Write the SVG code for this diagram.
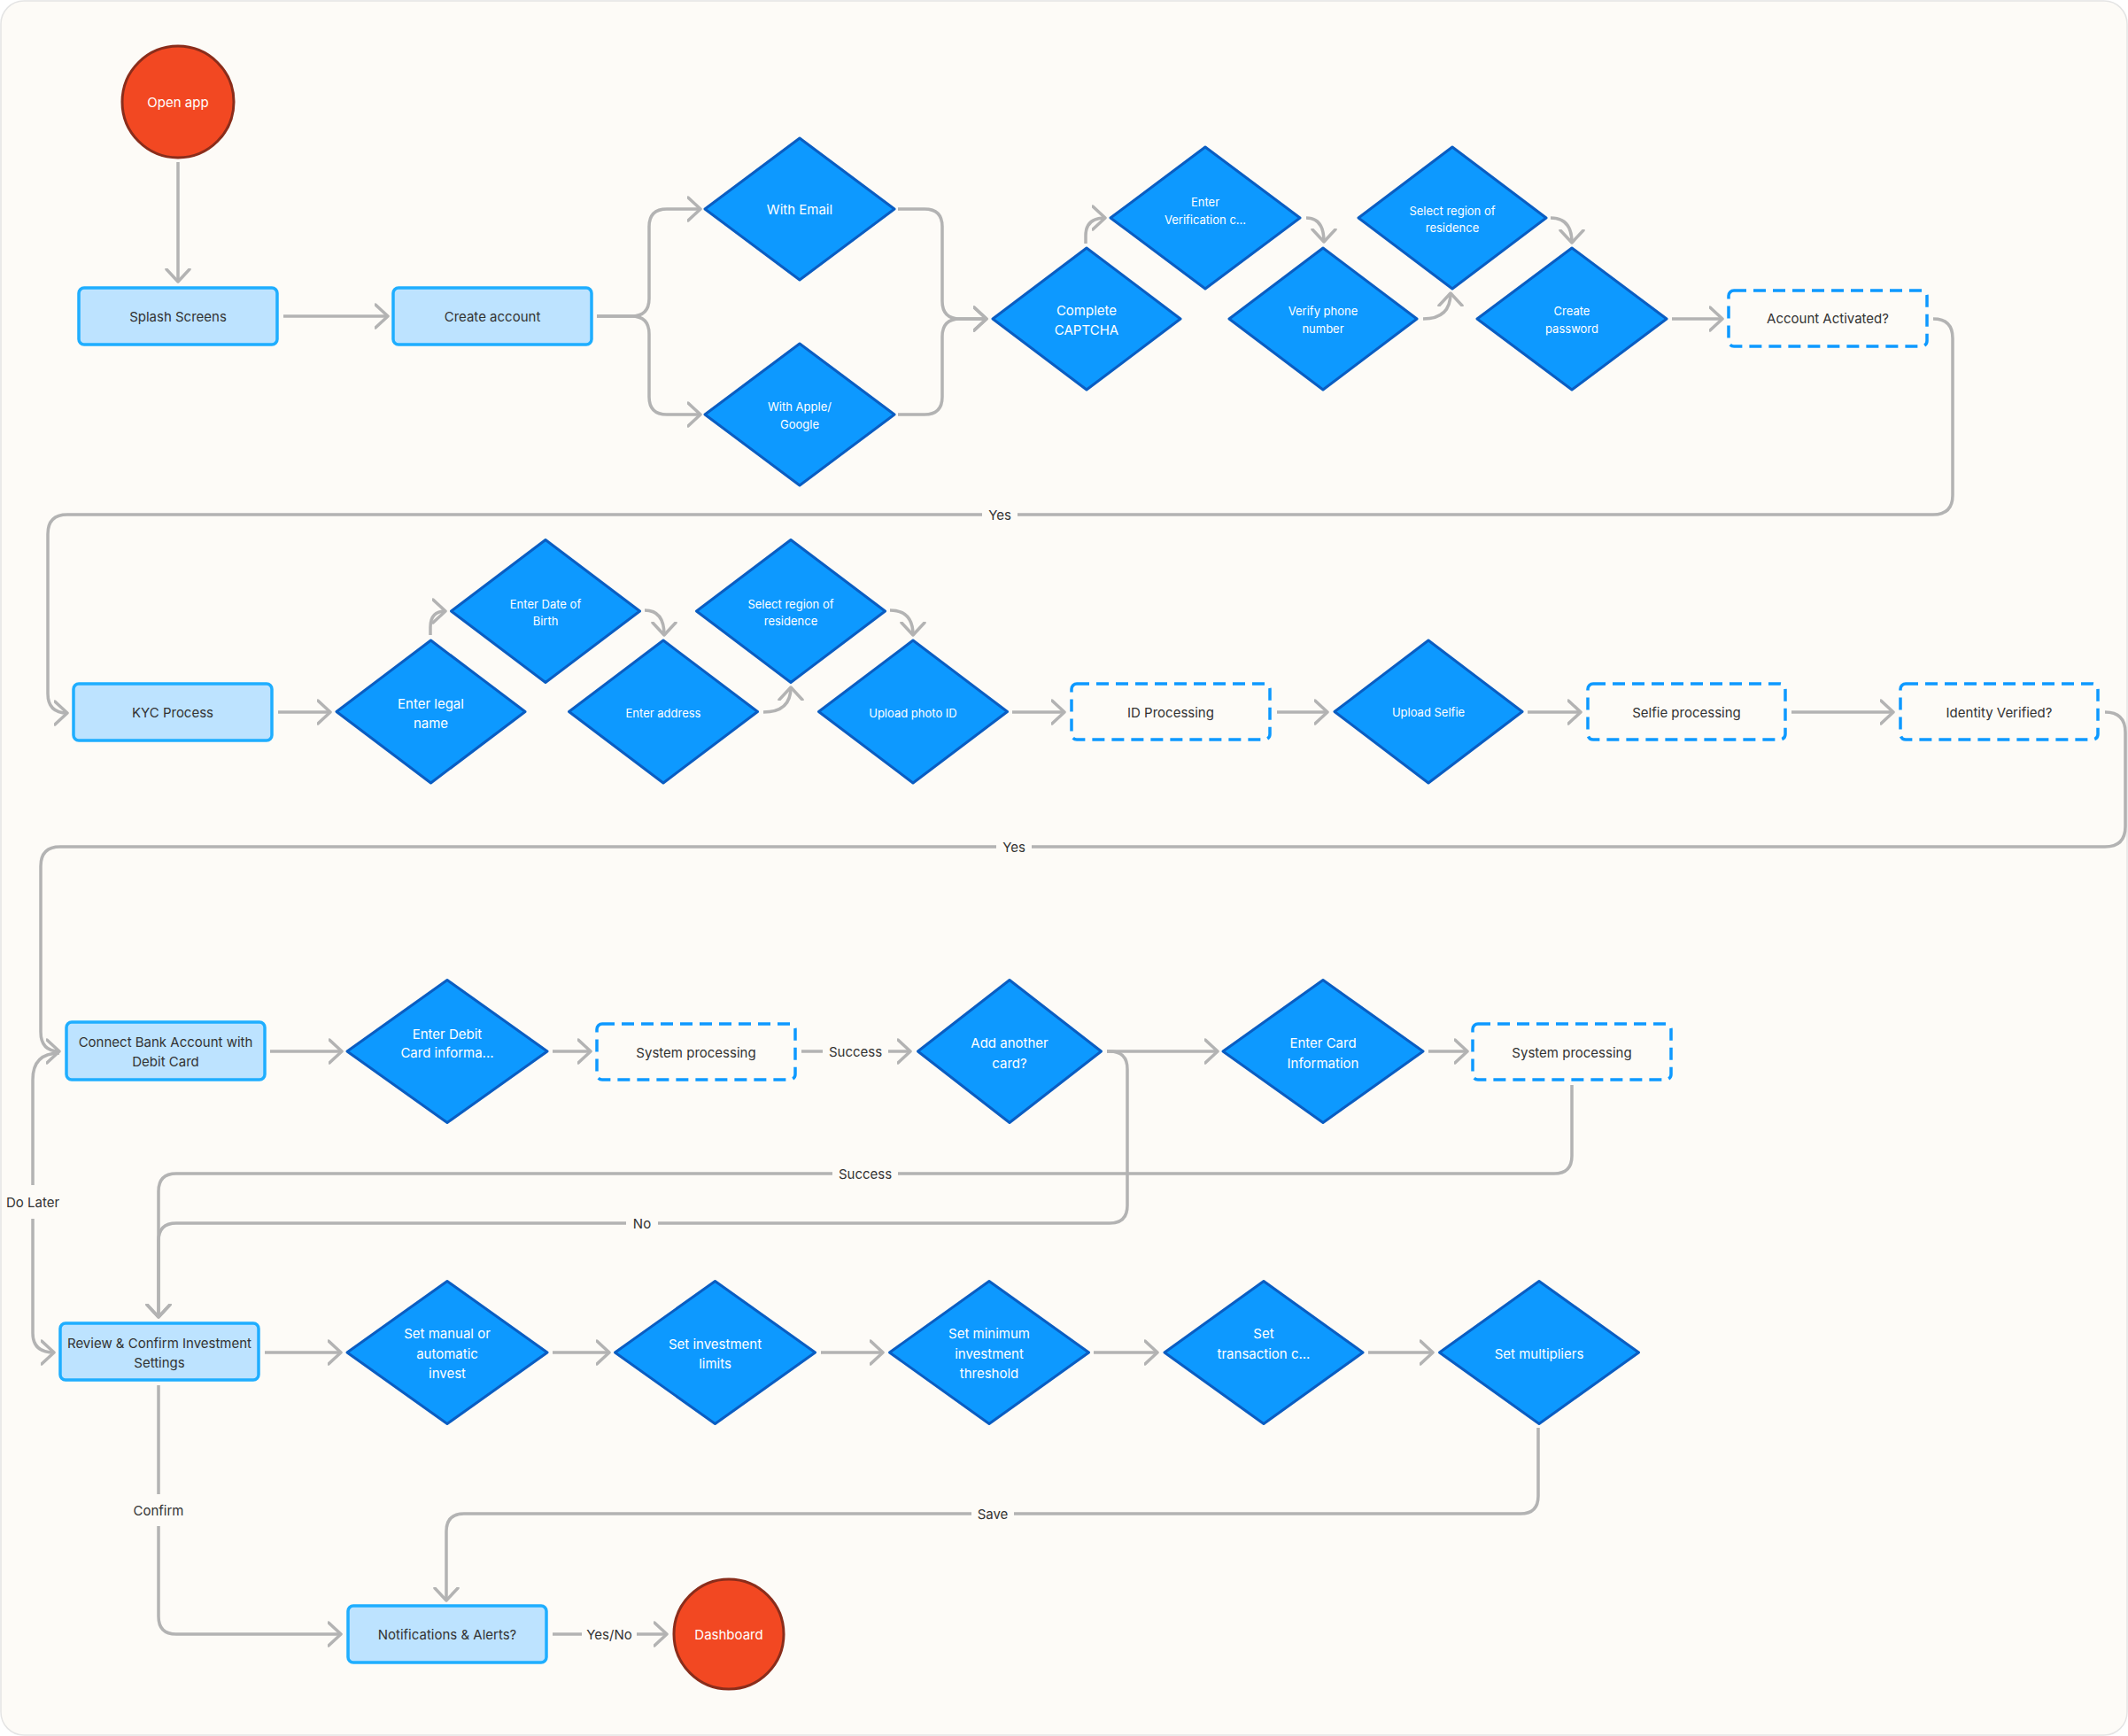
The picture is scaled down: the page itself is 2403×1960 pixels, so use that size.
<svg xmlns="http://www.w3.org/2000/svg" width="2403" height="1960" viewBox="0 0 2403 1960">
<defs>
<style>
.bg{fill:#FDFBF7;stroke:#E4E4E4;stroke-width:1.5}
.c{fill:none;stroke:#B3B3B3;stroke-width:3.5;stroke-linejoin:round}
.ca{fill:none;stroke:#B3B3B3;stroke-width:3.5;stroke-linejoin:round;marker-end:url(#arr)}
.dia{fill:#0D99FF;stroke:#0A5DC2;stroke-width:3;stroke-linejoin:round}
.box{fill:#BDE3FF;stroke:#1FAEFF;stroke-width:3.5}
.dash{fill:none;stroke:#0D99FF;stroke-width:3.5;stroke-dasharray:14 8}
.circ{fill:#F24822;stroke:#8A2D1B;stroke-width:3}
.lb{fill:#FDFBF7}
text{font-family:Inter,"Liberation Sans",sans-serif;text-anchor:middle;dominant-baseline:central}
.tw{fill:#FFFFFF;font-size:13px}
.tw15{fill:#FFFFFF;font-size:15px}
.td{fill:#333333;font-size:15px}
.tl{fill:#333333;font-size:15px}
</style>
<marker id="arr" markerUnits="userSpaceOnUse" markerWidth="30" markerHeight="30" refX="15" refY="15" orient="auto" viewBox="0 0 30 30">
<path d="M1 2 L15 15 L1 28" fill="none" stroke="#B3B3B3" stroke-width="3.5" stroke-linecap="round" stroke-linejoin="round"/>
</marker>
</defs>
<rect x="0" y="0" width="2403" height="1960" fill="#FFFFFF"/>
<rect class="bg" x="1" y="1" width="2401" height="1958" rx="26"/>

<g id="connectors">
<path class="ca" d="M201 183 L201 318"/>
<path class="ca" d="M320 357 L438 357"/>
<path class="ca" d="M674 357 L713 357 Q733 357 733 337 L733 256 Q733 236 753 236 L791 236"/>
<path class="ca" d="M674 357 L713 357 Q733 357 733 377 L733 448 Q733 468 753 468 L791 468"/>
<path class="ca" d="M1014 236 L1044 236 Q1064 236 1064 256 L1064 340 Q1064 360 1084 360 L1114 360"/>
<path class="ca" d="M1014 468 L1044 468 Q1064 468 1064 448 L1064 380 Q1064 360 1084 360 L1114 360"/>
<path class="ca" d="M1226 275 L1226 266 Q1226 246 1248 246"/>
<path class="ca" d="M1475 246 Q1495 246 1495 273"/>
<path class="ca" d="M1607 360 Q1638 360 1638 331"/>
<path class="ca" d="M1751 246 Q1775 246 1775 274"/>
<path class="ca" d="M1888 360 L1945 360"/>
<path class="ca" d="M2183 360 Q2205 360 2205 382 L2205 559 Q2205 581 2183 581 L76 581 Q54 581 54 603 L54 783 Q54 805 76 805"/>
<path class="ca" d="M314 804 L373 804"/>
<path class="ca" d="M486 717 L486 708 Q486 690 503 690"/>
<path class="ca" d="M728 689 Q750 689 750 717"/>
<path class="ca" d="M862 804 Q893 804 893 776"/>
<path class="ca" d="M1005 689 Q1031 689 1031 717"/>
<path class="ca" d="M1143 804 L1202 804"/>
<path class="ca" d="M1442 804 L1499 804"/>
<path class="ca" d="M1725 804 L1785 804"/>
<path class="ca" d="M2023 804 L2138 804"/>
<path class="ca" d="M2377 804 Q2400 804 2400 827 L2400 933 Q2400 956 2377 956 L68 956 Q46 956 46 978 L46 1165 Q46 1187 67 1187"/>
<path class="ca" d="M67 1189 Q37 1189 37 1219 L37 1505 Q37 1527 61 1527"/>
<path class="ca" d="M305 1187 L386 1187"/>
<path class="ca" d="M624 1187 L667 1187"/>
<path class="ca" d="M905 1187 L1028 1187"/>
<path class="ca" d="M1250 1187 L1375 1187"/>
<path class="ca" d="M1250 1187 L1253 1187 Q1273 1187 1273 1207 L1273 1361 Q1273 1381 1253 1381 L199 1381 Q179 1381 179 1401 L179 1487"/>
<path class="ca" d="M1613 1187 L1657 1187"/>
<path class="ca" d="M1775 1225 L1775 1305 Q1775 1325 1755 1325 L199 1325 Q179 1325 179 1345 L179 1487"/>
<path class="ca" d="M299 1527 L385 1527"/>
<path class="ca" d="M624 1527 L688 1527"/>
<path class="ca" d="M927 1527 L997 1527"/>
<path class="ca" d="M1235 1527 L1307 1527"/>
<path class="ca" d="M1545 1527 L1618 1527"/>
<path class="ca" d="M1737 1612 L1737 1689 Q1737 1709 1717 1709 L524 1709 Q504 1709 504 1729 L504 1807"/>
<path class="ca" d="M179 1564 L179 1825 Q179 1845 199 1845 L385 1845"/>
<path class="ca" d="M624 1845 L753 1845"/>
<g id="labels">
<rect class="lb" x="1109" y="570" width="40" height="22"/><text class="tl" x="1129" y="581">Yes</text>
<rect class="lb" x="1125" y="945" width="40" height="22"/><text class="tl" x="1145" y="956">Yes</text>
<rect class="lb" x="929" y="1176" width="74" height="22"/><text class="tl" x="966" y="1187">Success</text>
<rect class="lb" x="940" y="1314" width="74" height="22"/><text class="tl" x="977" y="1325">Success</text>
<rect class="lb" x="707" y="1370" width="36" height="22"/><text class="tl" x="725" y="1381">No</text>
<rect class="lb" x="2" y="1338" width="72" height="38"/><text class="tl" x="37" y="1357">Do Later</text>
<rect class="lb" x="1097" y="1698" width="48" height="22"/><text class="tl" x="1121" y="1709">Save</text>
<rect class="lb" x="144" y="1687" width="70" height="36"/><text class="tl" x="179" y="1705">Confirm</text>
<rect class="lb" x="657" y="1834" width="62" height="22"/><text class="tl" x="688" y="1845">Yes/No</text>
</g>
</g>

<g id="open-app"><circle class="circ" cx="201" cy="115" r="63"/><text class="tw15" x="201" y="115">Open app</text></g>
<g id="splash"><rect class="box" x="89" y="325" width="224" height="64" rx="6"/><text class="td" x="201" y="357">Splash Screens</text></g>
<g id="create-account"><rect class="box" x="444" y="325" width="224" height="64" rx="6"/><text class="td" x="556" y="357">Create account</text></g>
<g id="with-email"><polygon class="dia" points="903,156 1010,236 903,316 796,236"/><text class="tw15" x="903" y="236">With Email</text></g>
<g id="with-apple"><polygon class="dia" points="903,388 1010,468 903,548 796,468"/><text class="tw" x="903" y="459">With Apple/</text><text class="tw" x="903" y="479">Google</text></g>
<g id="captcha"><polygon class="dia" points="1227,280 1333,360 1227,440 1121,360"/><text class="tw15" x="1227" y="350">Complete</text><text class="tw15" x="1227" y="372">CAPTCHA</text></g>
<g id="verification"><polygon class="dia" points="1361,166 1468,246 1361,326 1254,246"/><text class="tw" x="1361" y="228">Enter</text><text class="tw" x="1361" y="248">Verification c...</text></g>
<g id="verify-phone"><polygon class="dia" points="1494,280 1600,360 1494,440 1388,360"/><text class="tw" x="1494" y="351">Verify phone</text><text class="tw" x="1494" y="371">number</text></g>
<g id="select-region-1"><polygon class="dia" points="1640,166 1746,246 1640,326 1534,246"/><text class="tw" x="1640" y="238">Select region of</text><text class="tw" x="1640" y="257">residence</text></g>
<g id="create-password"><polygon class="dia" points="1775,280 1882,360 1775,440 1668,360"/><text class="tw" x="1775" y="351">Create</text><text class="tw" x="1775" y="371">password</text></g>
<g id="account-activated"><rect class="dash" x="1952" y="328" width="224" height="63" rx="6"/><text class="td" x="2064" y="359">Account Activated?</text></g>

<g id="kyc"><rect class="box" x="83" y="772" width="224" height="64" rx="6"/><text class="td" x="195" y="804">KYC Process</text></g>
<g id="legal-name"><polygon class="dia" points="486.5,723 593,803.5 486.5,884 380,803.5"/><text class="tw15" x="486.5" y="794">Enter legal</text><text class="tw15" x="486.5" y="816">name</text></g>
<g id="dob"><polygon class="dia" points="616,609.5 722.5,690 616,770.5 509.5,690"/><text class="tw" x="616" y="682">Enter Date of</text><text class="tw" x="616" y="701">Birth</text></g>
<g id="address"><polygon class="dia" points="749,723 855.5,803.5 749,884 642.5,803.5"/><text class="tw" x="749" y="805">Enter address</text></g>
<g id="select-region-2"><polygon class="dia" points="893,609.5 999.5,690 893,770.5 786.5,690"/><text class="tw" x="893" y="682">Select region of</text><text class="tw" x="893" y="701">residence</text></g>
<g id="upload-photo"><polygon class="dia" points="1031,723 1137.5,803.5 1031,884 924.5,803.5"/><text class="tw" x="1031" y="805">Upload photo ID</text></g>
<g id="id-processing"><rect class="dash" x="1210" y="772" width="224" height="63" rx="6"/><text class="td" x="1322" y="804">ID Processing</text></g>
<g id="upload-selfie"><polygon class="dia" points="1613,723 1719,803.5 1613,884 1507,803.5"/><text class="tw" x="1613" y="804">Upload Selfie</text></g>
<g id="selfie-processing"><rect class="dash" x="1793" y="772" width="223" height="63" rx="6"/><text class="td" x="1904.5" y="804">Selfie processing</text></g>
<g id="identity-verified"><rect class="dash" x="2146" y="772" width="223" height="63" rx="6"/><text class="td" x="2257.5" y="804">Identity Verified?</text></g>

<g id="connect-bank"><rect class="box" x="75" y="1154" width="224" height="65" rx="6"/><text class="td" x="187" y="1176">Connect Bank Account with</text><text class="td" x="187" y="1198">Debit Card</text></g>
<g id="enter-debit"><polygon class="dia" points="505,1106.5 618,1187 505,1267.5 392,1187"/><text class="tw15" x="505" y="1167">Enter Debit</text><text class="tw15" x="505" y="1188">Card informa...</text></g>
<g id="system-processing-1"><rect class="dash" x="674" y="1156" width="224" height="63" rx="6"/><text class="td" x="786" y="1188">System processing</text></g>
<g id="add-another"><polygon class="dia" points="1140,1106.5 1243.5,1187 1140,1267.5 1036.5,1187"/><text class="tw15" x="1140" y="1177">Add another</text><text class="tw15" x="1140" y="1200">card?</text></g>
<g id="enter-card"><polygon class="dia" points="1494,1106.5 1607,1187 1494,1267.5 1381,1187"/><text class="tw15" x="1494" y="1177">Enter Card</text><text class="tw15" x="1494" y="1200">Information</text></g>
<g id="system-processing-2"><rect class="dash" x="1663" y="1156" width="224" height="63" rx="6"/><text class="td" x="1775" y="1188">System processing</text></g>

<g id="review"><rect class="box" x="68" y="1494" width="224" height="64" rx="6"/><text class="td" x="180" y="1516">Review &amp; Confirm Investment</text><text class="td" x="180" y="1538">Settings</text></g>
<g id="set-manual"><polygon class="dia" points="505,1446.5 618,1527 505,1607.5 392,1527"/><text class="tw15" x="505" y="1505">Set manual or</text><text class="tw15" x="505" y="1528">automatic</text><text class="tw15" x="505" y="1550">invest</text></g>
<g id="set-limits"><polygon class="dia" points="807.5,1446.5 920.5,1527 807.5,1607.5 694.5,1527"/><text class="tw15" x="807.5" y="1517">Set investment</text><text class="tw15" x="807.5" y="1539">limits</text></g>
<g id="set-minimum"><polygon class="dia" points="1117,1446.5 1229.5,1527 1117,1607.5 1004.5,1527"/><text class="tw15" x="1117" y="1505">Set minimum</text><text class="tw15" x="1117" y="1528">investment</text><text class="tw15" x="1117" y="1550">threshold</text></g>
<g id="set-transaction"><polygon class="dia" points="1427,1446.5 1539,1527 1427,1607.5 1315,1527"/><text class="tw15" x="1427" y="1505">Set</text><text class="tw15" x="1427" y="1528">transaction c...</text></g>
<g id="set-multipliers"><polygon class="dia" points="1738,1446.5 1850.5,1527 1738,1607.5 1625.5,1527"/><text class="tw15" x="1738" y="1528">Set multipliers</text></g>
<g id="notifications"><rect class="box" x="393" y="1813" width="224" height="64" rx="6"/><text class="td" x="505" y="1845">Notifications &amp; Alerts?</text></g>
<g id="dashboard"><circle class="circ" cx="823" cy="1845" r="62"/><text class="tw15" x="823" y="1845">Dashboard</text></g>
</svg>
